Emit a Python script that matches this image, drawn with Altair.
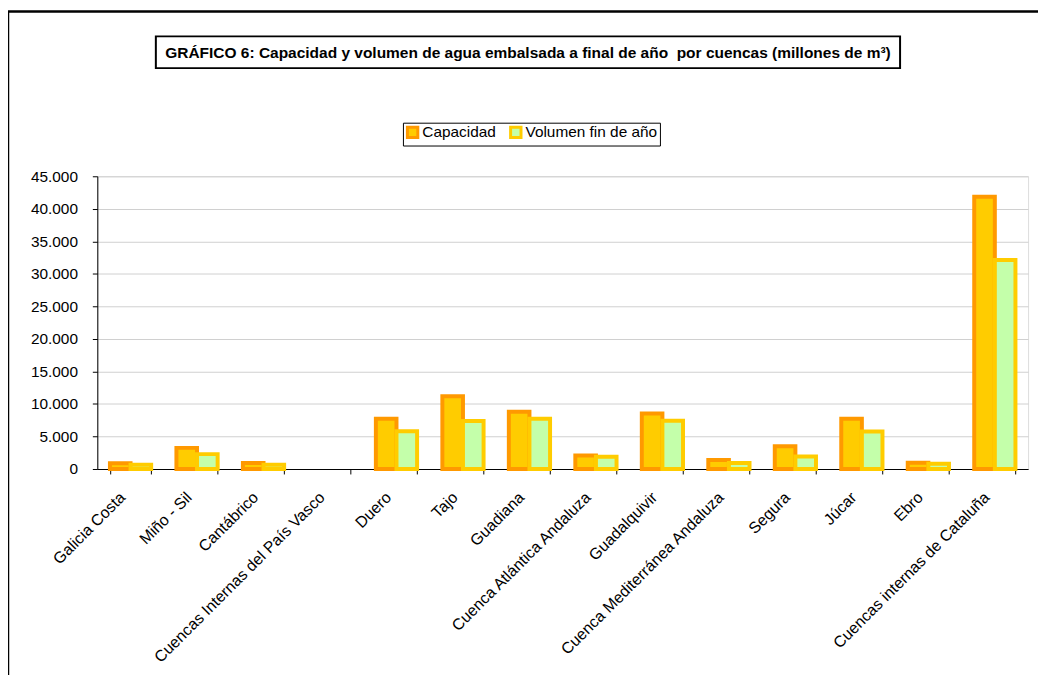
import altair as alt
import pandas as pd

cuencas = ["Galicia Costa", "Miño - Sil", "Cantábrico", "Cuencas Internas del País Vasco",
           "Duero", "Tajo", "Guadiana", "Cuenca Atlántica Andaluza", "Guadalquivir",
           "Cuenca Mediterránea Andaluza", "Segura", "Júcar", "Ebro",
           "Cuencas internas de Cataluña"]
capacidad = [870, 3250, 915, 0, 7730, 11180, 8800, 2090, 8540, 1370, 3510, 7730, 970, 41840]
volumen = [650, 2290, 660, 0, 5800, 7370, 7730, 1880, 7420, 915, 1930, 5750, 810, 32140]
series = ["Capacidad", "Volumen fin de año"]
titulo = "GRÁFICO 6: Capacidad y volumen de agua embalsada a final de año\u00a0 por cuencas (millones de m³)"

rows = []
for c, a, b in zip(cuencas, capacidad, volumen):
    rows.append({"cuenca": c, "serie": series[0], "valor": a})
    rows.append({"cuenca": c, "serie": series[1], "valor": b})
df = pd.DataFrame(rows)

FONT = "Liberation Sans"

leg = alt.Legend(orient="none", legendX=308, legendY=-54, direction="horizontal",
                 title=None, strokeColor="black", fillColor="white", padding=2,
                 symbolType="square", symbolSize=110, symbolStrokeWidth=3,
                 labelFontSize=15.5, labelFont=FONT, labelColor="black",
                 columnPadding=8, labelOffset=2)

bars = alt.Chart(df).transform_filter("datum.valor > 0").mark_bar(strokeWidth=4).encode(
    x=alt.X("cuenca:N", sort=cuencas, title=None,
            scale=alt.Scale(domain=cuencas, paddingInner=0.38, paddingOuter=0.19),
            axis=alt.Axis(labelAngle=-45, labelFontSize=16, labelFont=FONT, labelColor="black",
                          tickBand="extent", tickSize=5, tickColor="black",
                          domainColor="black", labelPadding=15, labelOffset=-14,
                          labelLimit=400)),
    xOffset=alt.XOffset("serie:N", sort=series),
    y=alt.Y("valor:Q", title=None, scale=alt.Scale(domain=[0, 45000], nice=False),
            axis=alt.Axis(values=list(range(0, 45001, 5000)),
                          labelExpr="replace(format(datum.value, ','), ',', '.')",
                          labelFontSize=15.5, labelFont=FONT, labelColor="black",
                          tickSize=5, tickColor="black", domainColor="black",
                          labelPadding=15, gridColor="#d0d0d0")),
    fill=alt.Fill("serie:N", scale=alt.Scale(domain=series, range=["#FFCC00", "#C4FFAA"]), legend=leg),
    stroke=alt.Stroke("serie:N", scale=alt.Scale(domain=series, range=["#FF9900", "#FFCC00"]), legend=leg),
)

one = pd.DataFrame({"t": [titulo]})
frame = alt.Chart(one).mark_rect(fillOpacity=0, stroke="black", strokeWidth=2.5).encode(
    x=alt.value(-90), x2=alt.value(1040), y=alt.value(-166), y2=alt.value(600))
tbox = alt.Chart(one).mark_rect(fill="white", stroke="black", strokeWidth=2).encode(
    x=alt.value(59), x2=alt.value(809), y=alt.value(-141), y2=alt.value(-109))
ttext = alt.Chart(one).mark_text(font=FONT, fontSize=15.6, fontWeight="bold", color="black",
                                 align="center", baseline="middle").encode(
    x=alt.value(434), y=alt.value(-124), text="t:N")

chart = alt.layer(frame, tbox, ttext, bars).properties(
    width=938, height=295,
    padding={"left": 90, "top": 167, "right": 10, "bottom": 205},
    autosize=alt.AutoSizeParams(type="none"),
).configure_view(stroke="black", strokeWidth=1).configure(background="white")

chart.save("out.html", embed_options={"renderer": "svg", "actions": False})
